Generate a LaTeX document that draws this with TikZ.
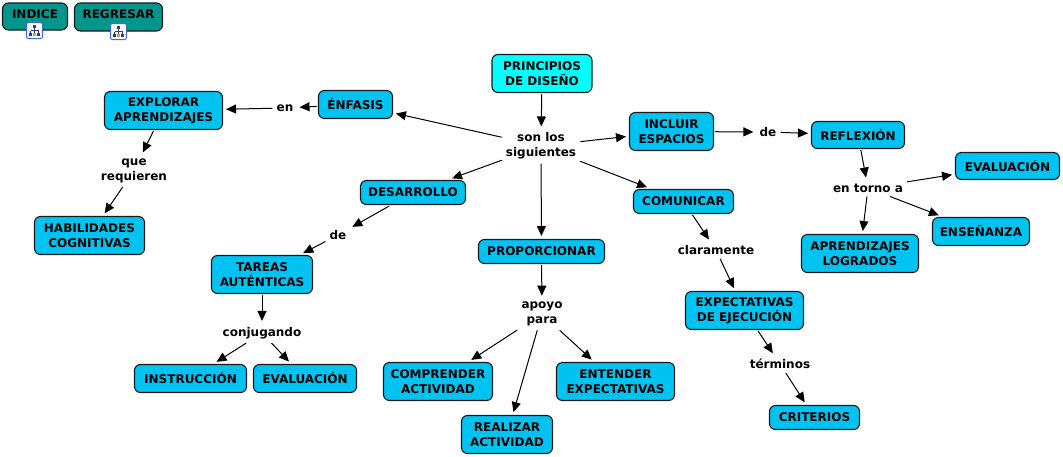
\documentclass[tikz,border=0pt]{standalone}
\usepackage{fontspec}
\setmainfont{DejaVu Sans}
\usetikzlibrary{arrows.meta}
\definecolor{cfill}{RGB}{0,195,242}
\definecolor{pfill}{RGB}{0,255,255}
\definecolor{bfill}{RGB}{0,150,140}
\definecolor{edgec}{RGB}{25,25,25}
\definecolor{iconblue}{RGB}{60,110,210}
\definecolor{iconnavy}{RGB}{40,60,150}
\definecolor{iconorange}{RGB}{235,150,40}
\begin{document}
\begin{tikzpicture}[x=1pt,y=-1pt,
  txt/.style={font=\fontsize{12}{15}\selectfont\bfseries, align=center, text=black},
  concept/.style={txt, draw=edgec, line width=1.1pt, fill=cfill, rounded corners=6pt,
    inner xsep=3pt, inner ysep=2pt, outer sep=1.5pt},
  link/.style={txt, inner sep=4pt},
  conn/.style={draw=black, line width=1pt, -{Triangle[length=10pt,width=9pt]}, shorten >=2pt},
  button/.style={txt, draw=edgec, line width=1.1pt, fill=bfill, rounded corners=6pt,
    text height=9pt, text depth=6pt, inner ysep=6pt},
  hier/.pic={
    \draw[rounded corners=2pt, fill=white, draw=iconblue, line width=1pt] (0.5,0.5) rectangle (16.5,16.5);
    \fill[iconnavy] (7,3) rectangle (10,6);
    \draw[iconnavy, line width=0.6pt] (8.5,6) -- (8.5,8.5) (4.5,8.5) -- (12.5,8.5) (4.5,8.5) -- (4.5,11) (12.5,8.5) -- (12.5,11) (8.5,8.5) -- (8.5,11);
    \fill[iconnavy] (3,11) rectangle (6,14);
    \fill[iconorange] (7,11) rectangle (10,14);
    \fill[iconnavy] (11,11) rectangle (14,14);
  }
]
\useasboundingbox (0,0) rectangle (1063,456);

% buttons
\node[button, minimum width=65pt, minimum height=27pt] (indice) at (35,16.5) {INDICE};
\node[button, minimum width=88pt, minimum height=28pt] (regresar) at (118.5,17) {REGRESAR};
\pic at (26,22) {hier};
\pic at (110,23) {hier};

% concepts
\node[concept, fill=pfill, minimum width=100pt, minimum height=38pt] (princ) at (542,73.5) {PRINCIPIOS\\DE DISEÑO};
\node[concept, minimum width=84pt, minimum height=38pt] (incluir) at (671.5,131.5) {INCLUIR\\ESPACIOS};
\node[concept, minimum width=100pt, minimum height=24pt] (comunicar) at (683.5,201.5) {COMUNICAR};
\node[concept, minimum width=93pt, minimum height=27pt] (reflexion) at (858,135) {REFLEXIÓN};
\node[concept, minimum width=104pt, minimum height=27pt] (evalR) at (1007.5,166) {EVALUACIÓN};
\node[concept, minimum width=97pt, minimum height=28pt] (ensenanza) at (981,231.5) {ENSEÑANZA};
\node[concept, minimum width=117pt, minimum height=38pt] (aprlog) at (860,253.5) {APRENDIZAJES\\LOGRADOS};
\node[concept, minimum width=74pt, minimum height=28pt] (enfasis) at (355.5,104.5) {ÉNFASIS};
\node[concept, minimum width=118pt, minimum height=38pt] (explorar) at (163.5,110.5) {EXPLORAR\\APRENDIZAJES};
\node[concept, minimum width=110pt, minimum height=38pt] (habil) at (89.5,235.5) {HABILIDADES\\COGNITIVAS};
\node[concept, minimum width=105pt, minimum height=24pt] (desarrollo) at (413,192.5) {DESARROLLO};
\node[concept, minimum width=101pt, minimum height=38pt] (tareas) at (262,274.5) {TAREAS\\AUTÉNTICAS};
\node[concept, minimum width=112pt, minimum height=28pt] (instr) at (190.5,378.5) {INSTRUCCIÓN};
\node[concept, minimum width=103pt, minimum height=28pt] (evalL) at (305,378.5) {EVALUACIÓN};
\node[concept, minimum width=126pt, minimum height=24pt] (proporc) at (541.5,251.5) {PROPORCIONAR};
\node[concept, minimum width=109pt, minimum height=38pt] (comprender) at (438,381.5) {COMPRENDER\\ACTIVIDAD};
\node[concept, minimum width=118pt, minimum height=38pt] (entender) at (615.5,381.5) {ENTENDER\\EXPECTATIVAS};
\node[concept, minimum width=91pt, minimum height=38pt] (realizar) at (507,434.5) {REALIZAR\\ACTIVIDAD};
\node[concept, minimum width=118pt, minimum height=38pt] (expect) at (744.5,310.5) {EXPECTATIVAS\\DE EJECUCIÓN};
\node[concept, minimum width=90pt, minimum height=24pt] (criterios) at (814.5,417.5) {CRITERIOS};

% linking phrases
\node[link] (son) at (541,146) {son los\\siguientes};
\node[link] (en) at (285,108) {en};
\node[link] (que) at (134,170.5) {que\\requieren};
\node[link] (deL) at (338,235) {de};
\node[link] (conj) at (262,333) {conjugando};
\node[link] (apoyo) at (542,314) {apoyo\\para};
\node[link] (clar) at (716,250) {claramente};
\node[link] (term) at (780,364) {términos};
\node[link] (deR) at (768,132) {de};
\node[link] (torno) at (868,188) {en torno a};

% connectors
\draw[conn] (princ) -- (son);
\draw[conn] (son) -- (enfasis);
\draw[conn] (son) -- (desarrollo);
\draw[conn] (son) -- (proporc);
\draw[conn] (son) -- (incluir);
\draw[conn] (son) -- (comunicar);
\draw[conn] (enfasis) -- (en);
\draw[conn] (en) -- (explorar);
\draw[conn] (explorar) -- (que);
\draw[conn] (que) -- (habil);
\draw[conn] (desarrollo) -- (deL);
\draw[conn] (deL) -- (tareas);
\draw[conn] (tareas) -- (conj);
\draw[conn] (conj) -- (instr);
\draw[conn] (conj) -- (evalL);
\draw[conn] (proporc) -- (apoyo);
\draw[conn] (apoyo) -- (comprender);
\draw[conn] (apoyo) -- (realizar);
\draw[conn] (apoyo) -- (entender);
\draw[conn] (comunicar) -- (clar);
\draw[conn] (clar) -- (expect);
\draw[conn] (expect) -- (term);
\draw[conn] (term) -- (criterios);
\draw[conn] (incluir) -- (deR);
\draw[conn] (deR) -- (reflexion);
\draw[conn] (reflexion) -- (torno);
\draw[conn] (torno) -- (evalR);
\draw[conn] (torno) -- (ensenanza);
\draw[conn] (torno) -- (aprlog);
\end{tikzpicture}
\end{document}
